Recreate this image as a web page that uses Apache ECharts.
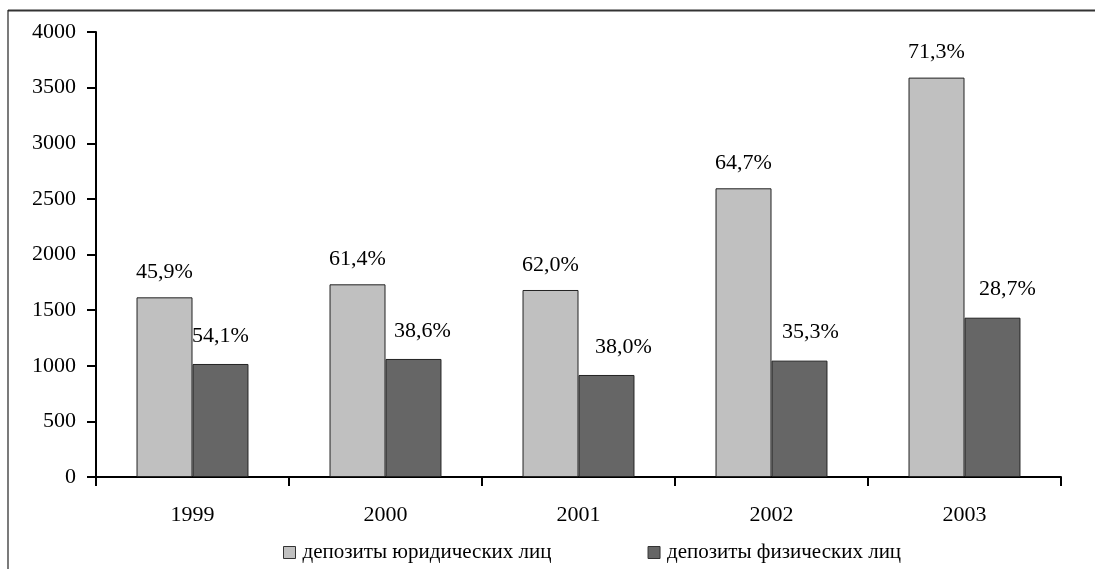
<!DOCTYPE html>
<html>
<head>
<meta charset="utf-8">
<script src="https://cdn.jsdelivr.net/npm/echarts@6/dist/echarts.min.js"></script>
<style>
html,body{margin:0;padding:0;background:#fff;}
#chart{width:1095px;height:569px;}
</style>
</head>
<body>
<div id="chart"></div>
<script>
const categories = ['1999', '2000', '2001', '2002', '2003'];
const seriesNames = ['депозиты юридических лиц', 'депозиты физических лиц'];
const legalValues = [1615, 1732, 1681, 2595, 3590];
const individualValues = [1016, 1061, 917, 1046, 1432];
const legalShares = [45.9, 61.4, 62.0, 64.7, 71.3];
const individualShares = [54.1, 38.6, 38.0, 35.3, 28.7];
const yTicks = [0, 500, 1000, 1500, 2000, 2500, 3000, 3500, 4000];

const FONT = '"Liberation Serif", "Times New Roman", serif';
const fmt = v => v.toFixed(1).replace('.', ',') + '%';
const darkLabelShift = [0, 9, 17, 11, 15];

const chart = echarts.init(document.getElementById('chart'), null, {renderer: 'canvas'});
chart.setOption({
  animation: false,
  backgroundColor: '#ffffff',
  textStyle: {fontFamily: FONT},
  graphic: [
    {type: 'line', shape: {x1: 8, y1: 10.5, x2: 1095, y2: 10.5}, style: {stroke: '#333', lineWidth: 2}},
    {type: 'line', shape: {x1: 8, y1: 10, x2: 8, y2: 569}, style: {stroke: '#222', lineWidth: 1.2}}
  ],
  grid: {left: 96, right: 34, top: 32, bottom: 92, containLabel: false},
  legend: {
    top: 542,
    left: 283,
    padding: 0,
    itemWidth: 12,
    itemHeight: 12,
    itemGap: 96,
    icon: 'rect',
    textStyle: {fontFamily: FONT, fontSize: 21, color: '#000', padding: [0, 0, 0, 2]},
    data: seriesNames.map(n => ({name: n, itemStyle: {borderColor: '#333', borderWidth: 1}}))
  },
  xAxis: {
    type: 'category',
    data: categories,
    axisLine: {lineStyle: {color: '#000', width: 2}},
    axisTick: {show: true, length: 9, lineStyle: {color: '#000', width: 2}},
    axisLabel: {fontFamily: FONT, fontSize: 22, color: '#000', margin: 27},
    splitLine: {show: false}
  },
  yAxis: {
    type: 'value',
    min: yTicks[0],
    max: yTicks[yTicks.length - 1],
    interval: yTicks[1] - yTicks[0],
    axisLine: {show: true, lineStyle: {color: '#000', width: 2}},
    axisTick: {show: true, length: 9, lineStyle: {color: '#000', width: 2}},
    axisLabel: {fontFamily: FONT, fontSize: 22, color: '#000', margin: 20, formatter: v => String(v)},
    splitLine: {show: false}
  },
  series: [
    {
      name: seriesNames[0],
      type: 'bar',
      data: legalValues,
      barGap: '0%',
      barCategoryGap: '42%',
      itemStyle: {color: '#C0C0C0', borderColor: '#222', borderWidth: 1},
      label: {
        show: true, position: 'top', distance: 14,
        fontFamily: FONT, fontSize: 22, color: '#000',
        formatter: p => fmt(legalShares[p.dataIndex])
      }
    },
    {
      name: seriesNames[1],
      type: 'bar',
      data: individualValues.map((v, i) => ({
        value: v,
        label: {offset: [darkLabelShift[i], 0]}
      })),
      barGap: '0%',
      barCategoryGap: '42%',
      itemStyle: {color: '#666666', borderColor: '#222', borderWidth: 1},
      label: {
        show: true, position: 'top', distance: 17,
        fontFamily: FONT, fontSize: 22, color: '#000',
        formatter: p => fmt(individualShares[p.dataIndex])
      }
    }
  ]
});
</script>
</body>
</html>
